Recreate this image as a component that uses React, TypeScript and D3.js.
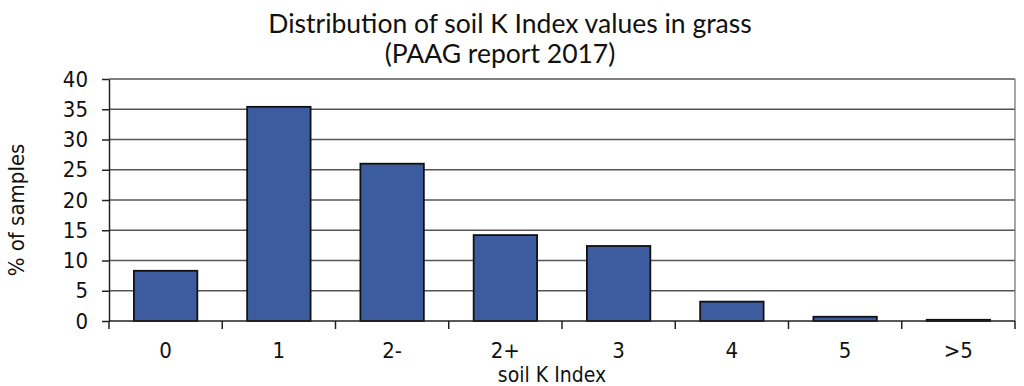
import React, { useRef, useEffect } from 'react';
import * as d3 from 'd3';

const categories = ['0', '1', '2-', '2+', '3', '4', '5', '>5'];
const percentages = [8.3, 35.4, 26.0, 14.2, 12.4, 3.2, 0.7, 0.2];
const yTicks = [0, 5, 10, 15, 20, 25, 30, 35, 40];

const tickFont = '"DejaVu Sans Condensed", "DejaVu Sans", Verdana, sans-serif';
const labelFont = '"DejaVu Sans", Verdana, sans-serif';

const App = () => {
  const chartRef = useRef<SVGSVGElement>(null);

  useEffect(() => {
    if (!chartRef.current) return;
    const svg = d3.select(chartRef.current);
    svg.selectAll('*').remove();

    const width = 1024;
    const height = 386;
    const marginLeft = 109;
    const marginRight = 9;
    const marginTop = 79;
    const marginBottom = 65;

    const x = d3.scaleBand()
      .domain(categories)
      .range([marginLeft, width - marginRight])
      .paddingInner(0.44)
      .paddingOuter(0.22);

    const y = d3.scaleLinear()
      .domain([0, 40])
      .range([height - marginBottom, marginTop]);

    // title
    const title = svg.append('text')
      .attr('x', 510)
      .attr('text-anchor', 'middle')
      .attr('font-family', 'Lato, sans-serif')
      .attr('font-size', 26.5)
      .attr('fill', '#111');
    title.append('tspan').attr('x', 510).attr('y', 33).text('Distribution of soil K Index values in grass');
    title.append('tspan').attr('x', 500).attr('y', 63).text('(PAAG report 2017)');

    // gridlines
    svg.append('g')
      .selectAll('line')
      .data(yTicks.filter(d => d > 0))
      .join('line')
      .attr('x1', marginLeft)
      .attr('x2', width - marginRight)
      .attr('y1', d => y(d))
      .attr('y2', d => y(d))
      .attr('stroke', '#555')
      .attr('stroke-width', 1.3);

    // right border
    svg.append('line')
      .attr('x1', width - marginRight)
      .attr('x2', width - marginRight)
      .attr('y1', y(40))
      .attr('y2', y(0))
      .attr('stroke', '#777')
      .attr('stroke-width', 1.3);

    // bars
    svg.append('g')
      .selectAll('rect')
      .data(percentages)
      .join('rect')
      .attr('x', (d, i) => x(categories[i]))
      .attr('y', d => y(d))
      .attr('width', x.bandwidth())
      .attr('height', d => y(0) - y(d))
      .attr('fill', '#3D5C9F')
      .attr('stroke', '#111')
      .attr('stroke-width', 1.8);

    // y axis
    svg.append('g')
      .attr('transform', `translate(${marginLeft},0)`)
      .call(d3.axisLeft(y).tickValues(yTicks).tickSize(7).tickPadding(14).tickSizeOuter(0))
      .call(g => g.selectAll('.domain').attr('stroke', '#222').attr('stroke-width', 1.5))
      .call(g => g.selectAll('.tick line').attr('stroke', '#222').attr('stroke-width', 1.5))
      .call(g => g.selectAll('.tick text')
        .attr('font-family', tickFont)
        .attr('font-size', 22)
        .attr('fill', '#111'));

    // x axis
    const xAxis = svg.append('g')
      .attr('transform', `translate(0,${y(0)})`);
    xAxis.append('line')
      .attr('x1', marginLeft)
      .attr('x2', width - marginRight)
      .attr('stroke', '#222')
      .attr('stroke-width', 1.5);
    const step = x.step();
    xAxis.selectAll('line.sep')
      .data(d3.range(categories.length + 1))
      .join('line')
      .attr('class', 'sep')
      .attr('x1', i => marginLeft + i * step)
      .attr('x2', i => marginLeft + i * step)
      .attr('y1', 0)
      .attr('y2', 8)
      .attr('stroke', '#222')
      .attr('stroke-width', 1.5);
    xAxis.selectAll('text')
      .data(categories)
      .join('text')
      .attr('x', d => x(d) + x.bandwidth() / 2)
      .attr('y', 37)
      .attr('text-anchor', 'middle')
      .attr('font-family', tickFont)
      .attr('font-size', 22)
      .attr('fill', '#111')
      .text(d => d);

    // axis titles
    svg.append('text')
      .attr('x', 552)
      .attr('y', 382)
      .attr('text-anchor', 'middle')
      .attr('font-family', tickFont)
      .attr('font-size', 21)
      .attr('fill', '#111')
      .text('soil K Index');

    svg.append('text')
      .attr('transform', `translate(24,210) rotate(-90)`)
      .attr('text-anchor', 'middle')
      .attr('font-family', tickFont)
      .attr('font-size', 22)
      .attr('fill', '#111')
      .text('% of samples');
  }, []);

  return (
    <svg
      ref={chartRef}
      width={1024}
      height={386}
      style={{ position: 'absolute', left: 0, top: 0, background: '#fff' }}
    />
  );
};

export default App;
